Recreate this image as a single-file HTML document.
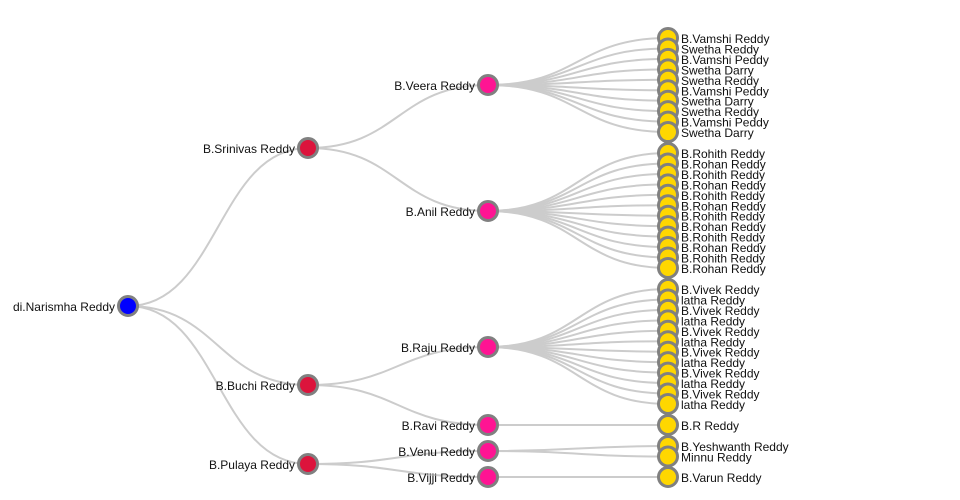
<!DOCTYPE html>
<html><head><meta charset="utf-8"><style>
html,body{margin:0;padding:0;background:#fff;width:960px;height:500px;overflow:hidden}
svg text{font-family:"Liberation Sans","DejaVu Sans",sans-serif;font-size:12px;fill:#111}
.l{fill:none;stroke:#ccc;stroke-width:2}
circle{stroke:#808080;stroke-width:3}
</style></head><body>
<svg width="960" height="500" id="s"></svg>
<script>
const s=document.getElementById('s');
const NS='http://www.w3.org/2000/svg';
function el(t,a,txt){const e=document.createElementNS(NS,t);for(const k in a)e.setAttribute(k,a[k]);if(txt)e.textContent=txt;s.appendChild(e);return e;}
function link(x1,y1,x2,y2){const m=(x1+x2)/2;el('path',{class:'l',d:`M${x1},${y1}C${m},${y1} ${m},${y2} ${x2},${y2}`});}
const root={x:128,y:306,n:'di.Narismha Reddy',c:'#0000ff'};
const L1=[{x:308,y:148,n:'B.Srinivas Reddy'},{x:308,y:385,n:'B.Buchi Reddy'},{x:308,y:464,n:'B.Pulaya Reddy'}];
const st=10.45;
function g(y0,names){return names.map((n,i)=>({y:y0+i*st,n}));}
const v=['B.Vamshi Reddy','Swetha Reddy','B.Vamshi Peddy','Swetha Darry','Swetha Reddy','B.Vamshi Peddy','Swetha Darry','Swetha Reddy','B.Vamshi Peddy','Swetha Darry'];
const a=[];for(let i=0;i<6;i++){a.push('B.Rohith Reddy','B.Rohan Reddy');}
const r=[];for(let i=0;i<6;i++){r.push('B.Vivek Reddy','latha Reddy');}
const L2=[
 {p:0,x:488,y:85,n:'B.Veera Reddy',k:g(38,v)},
 {p:0,x:488,y:211,n:'B.Anil Reddy',k:g(153,a)},
 {p:1,x:488,y:347,n:'B.Raju Reddy',k:g(289,r)},
 {p:1,x:488,y:425,n:'B.Ravi Reddy',k:[{y:425,n:'B.R Reddy'}]},
 {p:2,x:488,y:451,n:'B.Venu Reddy',k:[{y:446,n:'B.Yeshwanth Reddy'},{y:456.5,n:'Minnu Reddy'}]},
 {p:2,x:488,y:477,n:'B.Vijji Reddy',k:[{y:477,n:'B.Varun Reddy'}]}];
L1.forEach(n=>link(root.x,root.y,n.x,n.y));
L2.forEach(n=>{link(L1[n.p].x,L1[n.p].y,n.x,n.y);n.k.forEach(k=>link(n.x,n.y,668,k.y));});
function node(x,y,c,label,left){el('circle',{cx:x,cy:y,r:9.5,fill:c});
 if(left)el('text',{x:x-13,y:y+5,'text-anchor':'end'},label);}
node(root.x,root.y,'#0000ff',root.n,1);
L1.forEach(n=>node(n.x,n.y,'#dc143c',n.n,1));
L2.forEach(n=>node(n.x,n.y,'#ff1493',n.n,1));
L2.forEach(n=>n.k.forEach(k=>node(668,k.y,'#ffd700')));
L2.forEach(n=>n.k.forEach(k=>el('text',{x:681,y:k.y+5},k.n)));
</script>
</body></html>
